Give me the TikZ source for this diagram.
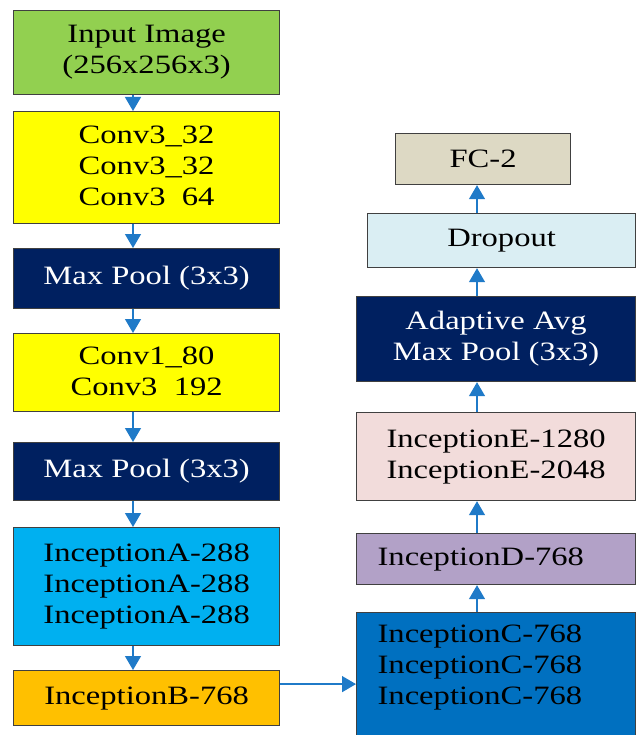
\documentclass[tikz,border=0pt]{standalone}
\usepackage{fontspec}
\setmainfont{Liberation Serif}[FakeStretch=1.23]
\usetikzlibrary{arrows.meta}
\definecolor{imggreen}{HTML}{92D050}
\definecolor{convyellow}{HTML}{FFFF00}
\definecolor{poolnavy}{HTML}{002060}
\definecolor{incAblue}{HTML}{00B0F0}
\definecolor{incBorange}{HTML}{FFC000}
\definecolor{incCblue}{HTML}{0070C0}
\definecolor{incDlilac}{HTML}{B2A1C7}
\definecolor{incEpink}{HTML}{F2DCDB}
\definecolor{dropcyan}{HTML}{DAEEF3}
\definecolor{fcbeige}{HTML}{DDD9C4}
\definecolor{flowblue}{HTML}{1F7AC8}
\tikzset{blk/.style = {draw=black!75, line width=1.2pt, anchor=north west, align=center, inner sep=0pt, font=\fontsize{26.5}{31}\selectfont}}
\tikzset{flow/.style = {-{Triangle[length=14pt, width=16pt]}, draw=flowblue, line width=1.3pt}}

\begin{document}
\begin{tikzpicture}[x=1pt, y=-1pt]
\useasboundingbox (0,0) rectangle (636,735);
% left column
\node[blk, fill=imggreen, minimum width=266pt, minimum height=84pt] (inp) at (13,10) {Input Image\\(256x256x3)};
\node[blk, fill=convyellow, minimum width=266pt, minimum height=112pt] (conv) at (13,111) {Conv3\_32\\Conv3\_32\\Conv3\phantom{\_}64};
\node[blk, fill=poolnavy, text=white, minimum width=266pt, minimum height=60pt] (pool1) at (13,248) {Max Pool (3x3)};
\node[blk, fill=convyellow, minimum width=266pt, minimum height=78pt] (conv2) at (13,333) {Conv1\_80\\Conv3\phantom{\_}192};
\node[blk, fill=poolnavy, text=white, minimum width=266pt, minimum height=58pt] (pool2) at (13,442) {Max Pool (3x3)};
\node[blk, fill=incAblue, minimum width=266pt, minimum height=118pt] (inca) at (13,527) {InceptionA-288\\InceptionA-288\\InceptionA-288};
\node[blk, fill=incBorange, minimum width=266pt, minimum height=55pt] (incb) at (13,670) {InceptionB-768};
% right column
\node[blk, fill=incCblue, align=left, text width=237pt, text depth=93pt, minimum width=279pt, minimum height=135pt] (incc) at (356,612) {InceptionC-768\\InceptionC-768\\InceptionC-768};
\node[blk, fill=incDlilac, align=left, text width=237pt, minimum width=279pt, minimum height=51pt] (incd) at (356,533) {InceptionD-768};
\node[blk, fill=incEpink, minimum width=279pt, minimum height=88pt] (ince) at (356,412) {InceptionE-1280\\InceptionE-2048};
\node[blk, fill=poolnavy, text=white, minimum width=279pt, minimum height=85pt] (avg) at (356,296) {Adaptive Avg\\Max Pool (3x3)};
\node[blk, fill=dropcyan, minimum width=268pt, minimum height=54pt] (drop) at (367,213) {Dropout};
\node[blk, fill=fcbeige, minimum width=175pt, minimum height=51pt] (fc) at (395,133) {FC-2};

\coordinate (lx) at (133,0);
\coordinate (rx) at (477,0);
\draw[flow] (inp.south -| lx) -- (conv.north -| lx);
\draw[flow] (conv.south -| lx) -- (pool1.north -| lx);
\draw[flow] (pool1.south -| lx) -- (conv2.north -| lx);
\draw[flow] (conv2.south -| lx) -- (pool2.north -| lx);
\draw[flow] (pool2.south -| lx) -- (inca.north -| lx);
\draw[flow] (inca.south -| lx) -- (incb.north -| lx);
\draw[flow] ([yshift=14pt]incb.east) -- ([yshift=14pt]incb.east -| incc.west);
\draw[flow] (incc.north -| rx) -- (incd.south -| rx);
\draw[flow] (incd.north -| rx) -- (ince.south -| rx);
\draw[flow] (ince.north -| rx) -- (avg.south -| rx);
\draw[flow] (avg.north -| rx) -- (drop.south -| rx);
\draw[flow] (drop.north -| rx) -- (fc.south -| rx);
\end{tikzpicture}
\end{document}
